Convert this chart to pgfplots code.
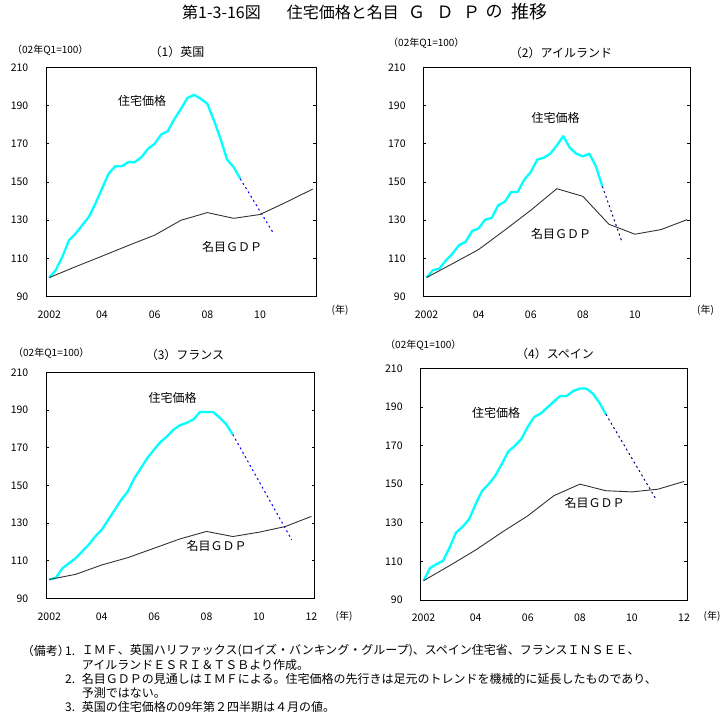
\documentclass[border=0pt]{standalone}
\usepackage{fontspec}
\setmainfont{Noto Sans CJK JP}
\usepackage{pgfplots}
\pgfplotsset{compat=1.18}

\definecolor{house}{RGB}{0,255,255}
\definecolor{gdp}{RGB}{50,50,50}
\definecolor{fcblue}{RGB}{0,0,255}
\definecolor{fcnavy}{RGB}{0,0,128}

\newcommand{\fs}[1]{\fontsize{#1bp}{#1bp}\selectfont}

\pgfplotsset{
  panel/.style={
    scale only axis,
    xmin=2001.875, xmax=2012.125,
    ymin=90, ymax=210,
    ytick={90,110,...,210},
    xtick={2002,2004,2006,2008,2010},
    xticklabels={2002,04,06,08,10},
    scaled x ticks=false,
    axis line style={line width=0.8bp},
    tick align=inside,
    major tick length=3bp,
    xtick style={draw=none},
    ytick style={line width=0.8bp, black},
    tick label style={font=\fs{10.5}},
    /pgf/number format/assume math mode=true,
    yticklabel style={anchor=east, inner sep=0pt, xshift=-17.5bp},
    xticklabel style={anchor=north, inner sep=0pt, yshift=-14bp},
  },
  house/.style={color=house, line width=2.3bp, line join=round},
  gdp/.style={color=gdp, line width=0.9bp},
  fc/.style={line width=1bp, dash pattern=on 2bp off 3bp},
}

\begin{document}
\begin{tikzpicture}
\useasboundingbox (0,0) rectangle (726bp,-718bp);

% (1) United Kingdom
\begin{axis}[panel, at={(46bp,-296.7bp)}, anchor=south west, width=270bp, height=229.4bp]
\addplot[house] coordinates {
(2002.00,100) (2002.25,104) (2002.50,111) (2002.75,119.6) (2003.00,123)
(2003.25,127.4) (2003.50,131.7) (2003.75,138.7) (2004.00,146.5) (2004.25,154.3)
(2004.50,158.2) (2004.75,158.2) (2005.00,160.4) (2005.25,160.4) (2005.50,163)
(2005.75,167.4) (2006.00,170) (2006.25,174.9) (2006.50,176.6) (2006.75,183)
(2007.00,188.3) (2007.25,194) (2007.50,195.6) (2007.75,193.5) (2008.00,190.9)
(2008.25,182.2) (2008.50,172.6) (2008.75,161.7) (2009.00,157.8) (2009.25,151.7)};
\addplot[fc, color=fcblue] coordinates {(2009.25,151.7) (2010.50,123.4)};
\addplot[gdp] coordinates {
(2002,100) (2003,105.7) (2004,111.2) (2005,116.8) (2006,122.2) (2007,130)
(2008,134) (2009,131) (2010,133) (2011,139.5) (2012,146.3)};
\end{axis}

% (2) Ireland
\begin{axis}[panel, at={(423.3bp,-296.7bp)}, anchor=south west, width=267bp, height=229.4bp]
\addplot[house] coordinates {
(2002.00,100) (2002.25,103.9) (2002.50,104.8) (2002.75,109.1) (2003.00,112.6)
(2003.25,117) (2003.50,118.7) (2003.75,124.4) (2004.00,125.7) (2004.25,130.3)
(2004.50,131.2) (2004.75,137.8) (2005.00,139.6) (2005.25,144.8) (2005.50,144.8)
(2005.75,151.2) (2006.00,155.2) (2006.25,161.7) (2006.50,162.7) (2006.75,164.8)
(2007.00,169.1) (2007.25,174) (2007.50,167.9) (2007.75,164.8) (2008.00,163.4)
(2008.25,164.8) (2008.50,158.2) (2008.75,147.7)};
\addplot[fc, color=fcnavy] coordinates {(2008.75,147.7) (2009.50,118.7)};
\addplot[gdp] coordinates {
(2002,100) (2003,107.3) (2004,114.7) (2005,124.8) (2006,135.2) (2007,146.5)
(2008,142.5) (2009,127.9) (2010,122.7) (2011,125.1) (2012,130.3)};
\end{axis}

% (3) France
\begin{axis}[panel, at={(46bp,-598.3bp)}, anchor=south west, width=268.7bp, height=226bp,
  xtick={2002,2004,2006,2008,2010,2012}, xticklabels={2002,04,06,08,10,12}]
\addplot[house] coordinates {
(2002.00,100) (2002.25,100.9) (2002.50,105.9) (2002.75,108.6) (2003.00,111.2)
(2003.25,114.8) (2003.50,118.4) (2003.75,122.8) (2004.00,126.4) (2004.25,131.7)
(2004.50,137) (2004.75,142.4) (2005.00,146.8) (2005.25,153.9) (2005.50,159.2)
(2005.75,164.6) (2006.00,169) (2006.25,173.1) (2006.50,176.1) (2006.75,179.7)
(2007.00,182) (2007.25,183.2) (2007.50,185) (2007.75,188.9) (2008.00,188.9)
(2008.25,188.9) (2008.50,185.9) (2008.75,182.4) (2009.00,177)};
\addplot[fc, color=fcblue] coordinates {(2009.00,177) (2011.25,121)};
\addplot[gdp] coordinates {
(2002,100) (2003,102.7) (2004,107.7) (2005,111.6) (2006,116.6) (2007,121.6)
(2008,125.5) (2009,122.8) (2010,125.1) (2011,128.1) (2012,133.5)};
\end{axis}

% (4) Spain
\begin{axis}[panel, at={(420.3bp,-600bp)}, anchor=south west, width=267bp, height=231.7bp,
  xtick={2002,2004,2006,2008,2010,2012}, xticklabels={2002,04,06,08,10,12}]
\addplot[house] coordinates {
(2002.00,100) (2002.25,106.6) (2002.50,108.6) (2002.75,110.3) (2003.00,117.2)
(2003.25,125) (2003.50,127.9) (2003.75,131.9) (2004.00,139.7) (2004.25,146.6)
(2004.50,150) (2004.75,154.3) (2005.00,160.3) (2005.25,166.9) (2005.50,169.8)
(2005.75,173.3) (2006.00,179.7) (2006.25,184.8) (2006.50,186.6) (2006.75,189.7)
(2007.00,192.8) (2007.25,195.7) (2007.50,195.7) (2007.75,198.3) (2008.00,199.5)
(2008.25,199.5) (2008.50,196.9) (2008.75,192.2) (2009.00,186.2)};
\addplot[fc, color=fcnavy] coordinates {(2009.00,186.2) (2010.95,141.6)};
\addplot[gdp] coordinates {
(2002,100) (2003,107.8) (2004,115.9) (2005,125) (2006,133.6) (2007,144)
(2008,150) (2009,146.6) (2010,146) (2011,147.4) (2012,151.4)};
\end{axis}

\begin{scope}[every node/.style={inner sep=0pt}]
% Main title, set in spaced-out pieces
\node[font=\fs{16}, anchor=west] at (182bp,-12bp) {第1-3-16図};
\node[font=\fs{16}, anchor=west] at (286.7bp,-12bp) {住宅価格と名目};
\node[font=\fs{17}] at (416.7bp,-12bp) {Ｇ};
\node[font=\fs{17}] at (445bp,-12bp) {Ｄ};
\node[font=\fs{17}] at (471.7bp,-12bp) {Ｐ};
\node[font=\fs{17}] at (494bp,-12bp) {の};
\node[font=\fs{18}] at (529bp,-12bp) {推移};

% Panel titles and index basis
\node[font=\fs{12}] at (177bp,-52bp) {（1）英国};
\node[font=\fs{12}] at (561bp,-53bp) {（2）アイルランド};
\node[font=\fs{12}] at (185bp,-355bp) {（3）フランス};
\node[font=\fs{12}] at (555bp,-354bp) {（4）スペイン};

\node[font=\fs{10}, anchor=west] at (12bp,-50bp) {（02年Q1=100）};
\node[font=\fs{10}, anchor=west] at (388bp,-43bp) {（02年Q1=100）};
\node[font=\fs{10}, anchor=west] at (13bp,-353bp) {（02年Q1=100）};
\node[font=\fs{10}, anchor=west] at (385bp,-345bp) {（02年Q1=100）};

\node[font=\fs{10}] at (340bp,-310bp) {(年)};
\node[font=\fs{10}] at (705.5bp,-310bp) {(年)};
\node[font=\fs{10}] at (344bp,-616bp) {(年)};
\node[font=\fs{10}] at (712bp,-616bp) {(年)};

% Series labels
\node[font=\fs{12}] at (142bp,-101bp) {住宅価格};
\node[font=\fs{12}] at (232bp,-247bp) {名目ＧＤＰ};
\node[font=\fs{12}] at (555.5bp,-118bp) {住宅価格};
\node[font=\fs{12}] at (561bp,-234bp) {名目ＧＤＰ};
\node[font=\fs{12}] at (172.5bp,-398bp) {住宅価格};
\node[font=\fs{12}] at (216.7bp,-546bp) {名目ＧＤＰ};
\node[font=\fs{12}] at (496bp,-412.7bp) {住宅価格};
\node[font=\fs{12}] at (594.7bp,-503bp) {名目ＧＤＰ};

% Notes
\node[font=\fs{12}, anchor=west] at (21.7bp,-651bp) {（備考）};
\node[font=\fs{12}, anchor=west] at (65bp,-651bp) {1.};
\node[font=\fs{12}, anchor=west] at (81.7bp,-651bp) {ＩＭＦ、英国ハリファックス(ロイズ・バンキング・グループ)、スペイン住宅省、フランスＩＮＳＥＥ、};
\node[font=\fs{12}, anchor=west] at (81.7bp,-665bp) {アイルランドＥＳＲＩ＆ＴＳＢより作成。};
\node[font=\fs{12}, anchor=west] at (65bp,-679bp) {2.};
\node[font=\fs{12}, anchor=west] at (81.7bp,-679bp) {名目ＧＤＰの見通しはＩＭＦによる。住宅価格の先行きは足元のトレンドを機械的に延長したものであり、};
\node[font=\fs{12}, anchor=west] at (81.7bp,-693bp) {予測ではない。};
\node[font=\fs{12}, anchor=west] at (65bp,-707bp) {3.};
\node[font=\fs{12}, anchor=west] at (81.7bp,-707bp) {英国の住宅価格の09年第２四半期は４月の値。};
\end{scope}
\end{tikzpicture}
\end{document}
